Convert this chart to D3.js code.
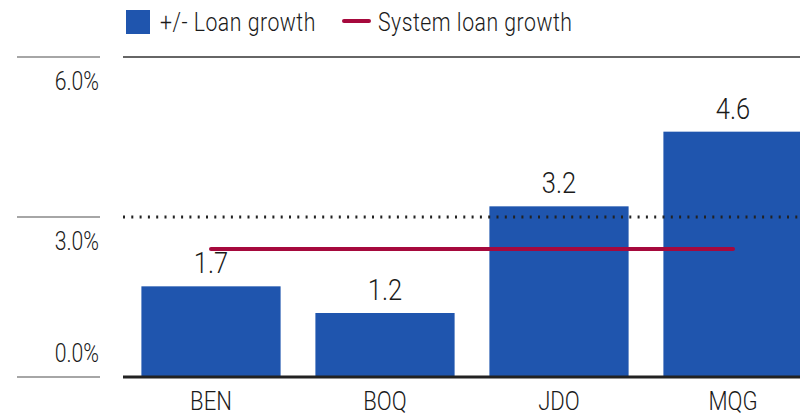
<!DOCTYPE html>
<html>
<head>
<meta charset="utf-8">
<script src="https://cdn.jsdelivr.net/npm/d3@7"></script>
<style>
  body { margin: 0; background: #fff; }
  svg text { font-family: Roboto, "Noto Sans", sans-serif; font-weight: 300; fill: #1a1a1a; }
</style>
</head>
<body>
<div id="chart"></div>
<script>
var categories = ["BEN", "BOQ", "JDO", "MQG"];
var loanGrowth = [1.7, 1.2, 3.2, 4.6];
var systemGrowth = [2.4, 2.4, 2.4, 2.4];
var yTicks = [0, 3, 6];
var yTickLabels = ["0.0%", "3.0%", "6.0%"];

var width = 800, height = 416;
var squeeze = 0.85; // condensed look

var svg = d3.select("#chart")
  .append("svg")
  .attr("width", width)
  .attr("height", height);

// place text at (px, py) with horizontal squeeze
function pos(px, py) {
  return "translate(" + px + "," + py + ") scale(" + squeeze + ",1)";
}

// scales
var x = d3.scaleBand()
    .domain(categories)
    .range([124, 820])
    .paddingInner(0.2)
    .paddingOuter(0.1);

var y = d3.scaleLinear()
    .domain([0, 6])
    .range([377, 57]);

// left tick marks + labels
var ticks = svg.append("g");
ticks.selectAll("line")
    .data(yTicks)
    .enter().append("line")
    .attr("x1", 17).attr("x2", 100)
    .attr("y1", function(d) { return y(d); })
    .attr("y2", function(d) { return y(d); })
    .attr("stroke", "#888")
    .attr("stroke-width", 1.5);
ticks.selectAll("text")
    .data(yTicks)
    .enter().append("text")
    .attr("transform", function(d) { return pos(99, Math.min(y(d) + 33, y(0) - 15)); })
    .attr("text-anchor", "end")
    .style("font-size", "25px")
    .text(function(d, i) { return yTickLabels[i]; });

// top gridline
svg.append("line")
    .attr("x1", 123).attr("x2", 800)
    .attr("y1", y(6)).attr("y2", y(6))
    .attr("stroke", "#666")
    .attr("stroke-width", 2);

// bars
svg.selectAll(".bar")
    .data(loanGrowth)
    .enter().append("rect")
    .attr("class", "bar")
    .attr("x", function(d, i) { return x(categories[i]); })
    .attr("width", x.bandwidth())
    .attr("y", function(d) { return y(d); })
    .attr("height", function(d) { return y(0) - y(d); })
    .attr("fill", "#1f55ae");

// dotted line at 3%
svg.append("line")
    .attr("x1", 123).attr("x2", 800)
    .attr("y1", y(3)).attr("y2", y(3))
    .attr("stroke", "#222")
    .attr("stroke-width", 3)
    .attr("stroke-dasharray", "2,6.3");

// value labels
svg.selectAll(".value")
    .data(loanGrowth)
    .enter().append("text")
    .attr("class", "value")
    .attr("transform", function(d, i) {
      return pos(x(categories[i]) + x.bandwidth() / 2, y(d) - 13);
    })
    .attr("text-anchor", "middle")
    .style("font-size", "30px")
    .text(function(d) { return d.toFixed(1); });

// system loan growth line
var line = d3.line()
    .x(function(d, i) { return x(categories[i]) + x.bandwidth() / 2; })
    .y(function(d) { return y(d); });
svg.append("path")
    .datum(systemGrowth)
    .attr("d", line)
    .attr("fill", "none")
    .attr("stroke", "#a6093d")
    .attr("stroke-width", 4)
    .attr("stroke-linecap", "round");

// baseline
svg.append("line")
    .attr("x1", 123).attr("x2", 800)
    .attr("y1", y(0)).attr("y2", y(0))
    .attr("stroke", "#222")
    .attr("stroke-width", 3);

// category labels
svg.selectAll(".cat")
    .data(categories)
    .enter().append("text")
    .attr("class", "cat")
    .attr("transform", function(d) { return pos(x(d) + x.bandwidth() / 2, 410); })
    .attr("text-anchor", "middle")
    .style("font-size", "26px")
    .text(function(d) { return d; });

// legend
var legend = svg.append("g");
legend.append("rect")
    .attr("x", 126).attr("y", 10)
    .attr("width", 24).attr("height", 24)
    .attr("fill", "#1f55ae");
legend.append("text")
    .attr("transform", pos(160, 31))
    .style("font-size", "25px")
    .style("letter-spacing", "0.6px")
    .text("+/- Loan growth");
legend.append("line")
    .attr("x1", 344).attr("x2", 369)
    .attr("y1", 21).attr("y2", 21)
    .attr("stroke", "#a6093d")
    .attr("stroke-width", 4)
    .attr("stroke-linecap", "round");
legend.append("text")
    .attr("transform", pos(378, 31))
    .style("font-size", "25px")
    .style("letter-spacing", "0.6px")
    .text("System loan growth");
</script>
</body>
</html>
